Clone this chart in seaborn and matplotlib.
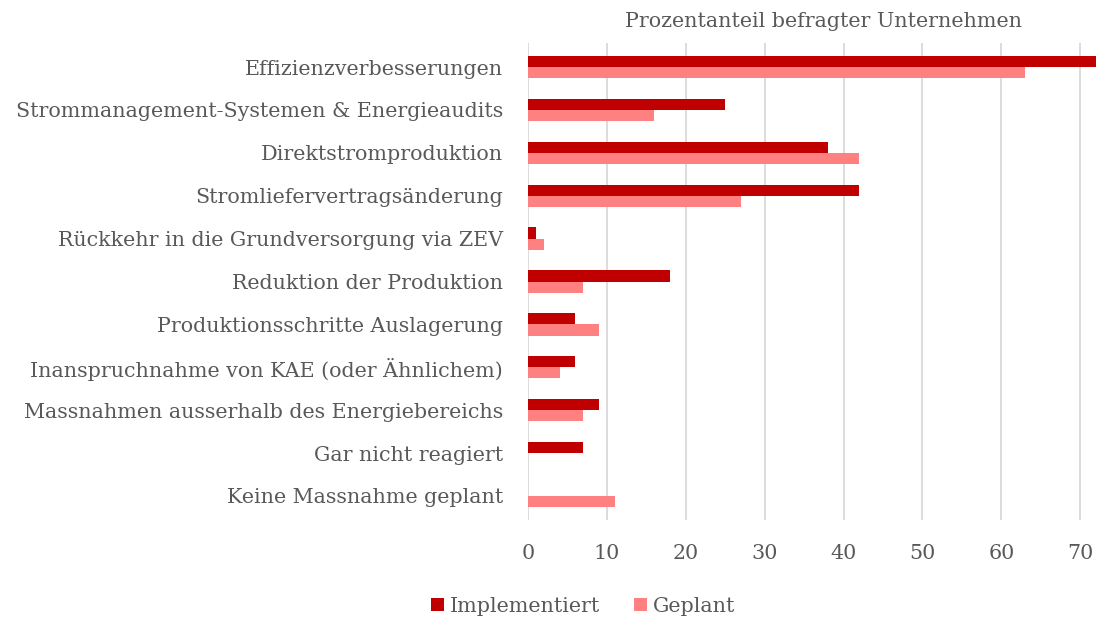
import matplotlib
matplotlib.use("Agg")
import matplotlib.pyplot as plt
import pandas as pd
import seaborn as sns

categories = [
    "Effizienzverbesserungen",
    "Strommanagement-Systemen & Energieaudits",
    "Direktstromproduktion",
    "Stromliefervertragsänderung",
    "Rückkehr in die Grundversorgung via ZEV",
    "Reduktion der Produktion",
    "Produktionsschritte Auslagerung",
    "Inanspruchnahme von KAE (oder Ähnlichem)",
    "Massnahmen ausserhalb des Energiebereichs",
    "Gar nicht reagiert",
    "Keine Massnahme geplant",
]
implementiert = [72.5, 25, 38, 42, 1, 18, 6, 6, 9, 7, 0]
geplant = [63, 16, 42, 27, 2, 7, 9, 4, 7, 0, 11]
series = ["Implementiert", "Geplant"]
ticks = [0, 10, 20, 30, 40, 50, 60, 70]

df = pd.DataFrame({
    "Massnahme": categories * 2,
    "Anteil": implementiert + geplant,
    "Status": [series[0]] * len(categories) + [series[1]] * len(categories),
})

sns.set_theme(style="white")
plt.rcParams['font.family'] = ['DejaVu Serif']
grey = "#595959"
fs = 14.9

fig = plt.figure(figsize=(10.96, 6.2), dpi=100)
ax = fig.add_axes([0.4818, 0.1613, 0.5182, 0.7693])
sns.barplot(data=df, y="Massnahme", x="Anteil", hue="Status", orient="h",
            palette=["#C00000", "#FF8080"], width=0.52, gap=0, ax=ax,
            legend=True, saturation=1, linewidth=0)

ax.set_xlim(0, 72)
ax.set_ylim(10.56, -0.56)
ax.set_xticks(ticks)
ax.xaxis.grid(True, color="#d9d9d9", linewidth=1.3)
ax.set_axisbelow(True)
for s in ax.spines.values():
    s.set_visible(False)
ax.set_xlabel("")
ax.set_ylabel("")
ax.tick_params(axis="x", colors=grey, labelsize=fs, length=0, pad=17)
ax.tick_params(axis="y", colors=grey, labelsize=fs, length=0, pad=18)

handles, labels = ax.get_legend_handles_labels()
ax.get_legend().remove()
fig.legend(handles, labels, loc="center", bbox_to_anchor=(0.532, 0.022), ncol=2,
           frameon=False, fontsize=fs, handlelength=0.65, handleheight=0.65,
           handletextpad=0.3, columnspacing=1.6, labelcolor=grey)

fig.text(0.751, 0.965, "Prozentanteil befragter Unternehmen", ha="center", va="center",
         fontsize=fs, color=grey)

fig.savefig("out.png", dpi=100)
